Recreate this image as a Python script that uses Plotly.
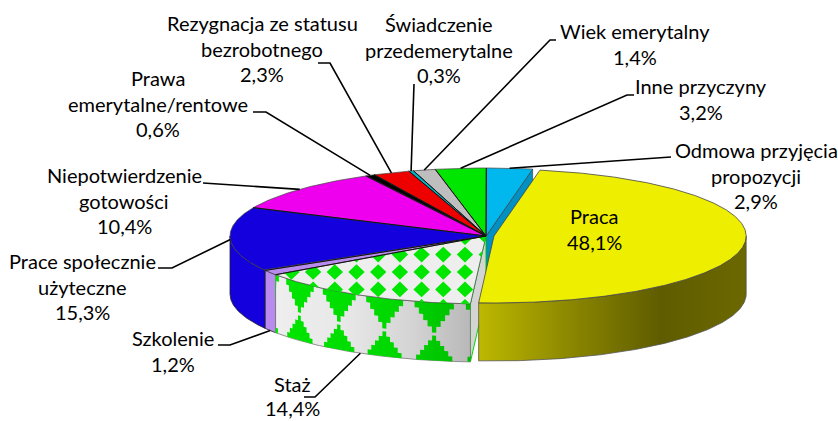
import math
import numpy as np
import plotly.graph_objects as go

# ---- data (clockwise, starting at the yellow slice)
labels = ["Praca", "Staż", "Szkolenie", "Prace społecznie\nużyteczne", "Niepotwierdzenie\ngotowości",
          "Prawa\nemerytalne/rentowe", "Rezygnacja ze statusu\nbezrobotnego", "Świadczenie\nprzedemerytalne",
          "Wiek emerytalny", "Inne przyczyny", "Odmowa przyjęcia\npropozycji"]
values = [48.1, 14.4, 1.2, 15.3, 10.4, 0.6, 2.3, 0.3, 1.4, 3.2, 2.9]
value_text = ["48,1%", "14,4%", "1,2%", "15,3%", "10,4%", "0,6%", "2,3%", "0,3%", "1,4%", "3,2%", "2,9%"]
colors = ["#EEEE00", "#EEEEEE", "#B98BEE", "#1400DC", "#EE00EE", "#000000", "#EE0000", "#00B4C8",
          "#BEBEBE", "#00E600", "#00B8EE"]
wall_colors = ["#807C00", "#DDDDDD", "#A070D8", "#1400DC", "#B000B0", "#000000", "#B00000", "#0090A0",
               "#909090", "#00B000", "#0090C4"]

# ---- projection of the pie
CX, CY, RX, RY, DEPTH, T0 = 486, 236, 256, 68, 58, 10.5
Y_DX, Y_SCALE = 8, 0.985            # the pulled-out yellow slice

edges = T0 + np.concatenate([[0], np.cumsum(values)]) / sum(values) * 360
mids = (edges[:-1] + edges[1:]) / 2


def pt(t, h=0, cx=CX, scale=1.0):
    r = math.radians(t)
    return cx + RX * scale * math.sin(r), CY - RY * scale * math.cos(r) + h


def arc(a, b, h=0, cx=CX, scale=1.0):
    n = max(2, int(abs(b - a) * 2))
    return [pt(t, h, cx, scale) for t in np.linspace(a, b, n)]


def poly_trace(points, fill=None, line=None, width=0.0, grad=None):
    xs = [p[0] if p else None for p in points]
    ys = [p[1] if p else None for p in points]
    kw = dict(x=xs, y=ys, mode="lines", hoverinfo="skip", showlegend=False,
              line=dict(color=line or "rgba(0,0,0,0)", width=width))
    if fill or grad:
        kw["fill"] = "toself"
        kw["fillcolor"] = fill or "rgba(0,0,0,0)"
    if grad:
        kw["fillgradient"] = dict(type="horizontal", colorscale=grad)
    return go.Scatter(**kw)


def wall_poly(a, b, cx=CX, scale=1.0):
    return arc(a, b, 0, cx, scale) + arc(b, a, DEPTH, cx, scale)


def clip_convex(subject, clip):
    area = sum(clip[i][0] * clip[(i + 1) % len(clip)][1] - clip[(i + 1) % len(clip)][0] * clip[i][1]
               for i in range(len(clip)))
    sign = 1 if area > 0 else -1

    def side(p, a, b):
        return sign * ((b[0] - a[0]) * (p[1] - a[1]) - (b[1] - a[1]) * (p[0] - a[0]))

    out = subject
    for i in range(len(clip)):
        a, b = clip[i], clip[(i + 1) % len(clip)]
        src, out = out, []
        for j in range(len(src)):
            p, q = src[j], src[(j + 1) % len(src)]
            sp, sq = side(p, a, b), side(q, a, b)
            if sp >= 0:
                out.append(p)
            if sp * sq < 0:
                k = sp / (sp - sq)
                out.append((p[0] + k * (q[0] - p[0]), p[1] + k * (q[1] - p[1])))
        if not out:
            return []
    return out


fig = go.Figure()
I_Y, I_ST, I_SZ, I_PR, I_BL = 0, 1, 2, 3, 10

# cut wall of the blue slice, visible in the gap beside the yellow slice
b0 = pt(T0)
fig.add_trace(poly_trace([(CX, CY), b0, (b0[0], b0[1] + DEPTH), (CX, CY + DEPTH), (CX, CY)],
                         fill=wall_colors[I_BL], line="#333333", width=0.6))

# cut wall of the Staż slice, visible left of the yellow wall
s0 = pt(edges[I_ST])
fig.add_trace(poly_trace([(CX, CY), s0, (s0[0], s0[1] + DEPTH), (CX, CY + DEPTH), (CX, CY)],
                         fill="#D4D4D4", line="#00D800", width=1))

# yellow wall and outer walls
yw = wall_poly(90, edges[1], CX + Y_DX, Y_SCALE)
fig.add_trace(poly_trace(yw + [yw[0]], line="#555555", width=0.8,
                         grad=[[0, "#BDB800"], [0.35, "#8A8600"], [0.68, "#5F5C00"], [1, "#6C6800"]]))

w = wall_poly(edges[I_PR], 270)
fig.add_trace(poly_trace(w + [w[0]], fill="#1400DC", line="#222222", width=0.8))
w = wall_poly(edges[I_SZ], edges[I_PR])
fig.add_trace(poly_trace(w + [w[0]], fill=colors[I_SZ], line="#222222", width=0.8))
w = wall_poly(edges[I_ST], edges[I_SZ])
fig.add_trace(poly_trace(w + [w[0]], line="#777777", width=0.8,
                         grad=[[0, "#EEEEEE"], [0.35, "#E8E8E8"], [0.7, "#D4D4D4"], [1, "#B8B8B8"]]))

# stair-stepped green triangles on the Staż wall


def stair(tc, half, base, height, steps=5):
    a, b = edges[I_ST], edges[I_SZ]
    left, right = [], []
    for k in range(steps):
        wid = half * (1 - (k + 0.5) / steps)
        h0, h1 = base + height * k / steps, base + height * (k + 1) / steps
        left += [(tc - wid, h0), (tc - wid, h1)]
        right += [(tc + wid, h0), (tc + wid, h1)]
    ring = right + left[::-1]
    return [pt(min(max(t, a), b), h) for t, h in ring] + [pt(min(max(ring[0][0], a), b), ring[0][1])]


wall_green = []
for tc in np.arange(180.0, 245.0, 11.7):
    wall_green += stair(tc, 5.0, 0, 30) + [None]
    wall_green += stair(tc, 4.6, DEPTH, -25) + [None]
fig.add_trace(poly_trace(wall_green, grad=[[0, "#00E600"], [0.6, "#00D800"], [1, "#00BC00"]]))

# top faces, Staż pattern, yellow on top
for i in [10, 9, 8, 7, 6, 5, 4, 3, 2, 1]:
    p = [(CX, CY)] + arc(edges[i], edges[i + 1]) + [(CX, CY)]
    fig.add_trace(poly_trace(p, fill=colors[i], line="#444444", width=0.7))

wedge = [(CX, CY)] + arc(edges[I_ST], edges[I_SZ])
dia = []
for ix in range(-14, 3):
    for iy in range(-3, 4):
        x0, y0 = 465 + 21.7 * ix, 272 + 17.4 * iy
        d = [(x0 - 8.2, y0), (x0, y0 - 7.8), (x0 + 8.2, y0), (x0, y0 + 7.8)]
        c = clip_convex(d, wedge)
        if len(c) > 2:
            dia += c + [c[0], None]
fig.add_trace(poly_trace(dia, fill="#00E600"))

p = [(CX + Y_DX, CY)] + arc(edges[0], edges[1], 0, CX + Y_DX, Y_SCALE) + [(CX + Y_DX, CY)]
fig.add_trace(poly_trace(p, fill=colors[0], line="#444444", width=0.8))

# black radial edges
rad = []
for i in range(2, 11):
    rad += [(CX, CY), pt(edges[i]), None]
fig.add_trace(poly_trace(rad, line="#111111", width=1))

# label layout: text-centre x, y of first line, line gap, elbow, end of leader, leader on the wall?
label_x = [594, 292, 173, 82, 124, 158, 262, 439, 635, 701, 756]
label_y = [216, 384, 338, 261, 175, 78, 23, 24, 31, 86, 150]
label_gap = [25.6, 23.5, 25.6, 25.6, 25.6, 25.6, 25.6, 25.6, 25.6, 25.6, 25.6]
elbows = [None, (315, 397), (230, 345), (172, 268), (205, 183), (266, 112), (330, 63), (414, 84),
          (550, 40), (627, 95), (668, 157)]
ends = [None, (304, 397), (218, 345), (158, 268), (203, 183), (253, 112), (318, 63), (414, 84),
        (556, 40), (634, 95), (671, 157)]
on_wall = [False, True, True, False, False, False, False, False, False, False, False]

for i in range(1, 11):
    a = pt(mids[i], DEPTH if on_wall[i] else 0)
    fig.add_trace(poly_trace([a, elbows[i], ends[i]], line="#000000", width=1.6))

ann = []
for i, lab in enumerate(labels):
    for j, txt in enumerate(lab.split("\n") + [value_text[i]]):
        ann.append(dict(x=label_x[i], y=label_y[i] + j * label_gap[i], text=txt, showarrow=False,
                        xref="x", yref="y", xanchor="center", yanchor="middle",
                        font=dict(family="Lato, Carlito, Open Sans", size=20, color="#000000")))

fig.update_layout(width=838, height=421, margin=dict(l=0, r=0, t=0, b=0),
                  paper_bgcolor="white", plot_bgcolor="white", showlegend=False, annotations=ann,
                  xaxis=dict(range=[0, 838], visible=False, fixedrange=True),
                  yaxis=dict(range=[421, 0], visible=False, fixedrange=True))
fig.write_html("out.html", config={"displayModeBar": False},
               post_script="document.body.style.margin='0';document.documentElement.style.overflow='hidden';")
